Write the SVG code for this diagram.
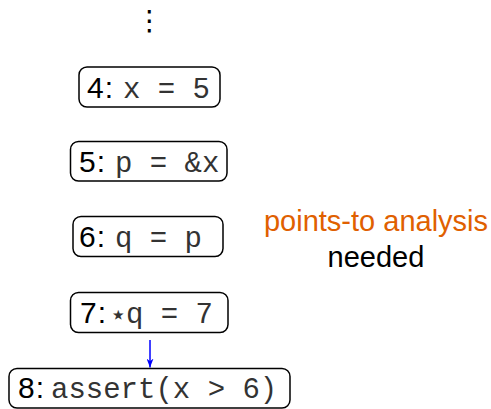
<svg xmlns="http://www.w3.org/2000/svg" width="491" height="409" viewBox="0 0 491 409">
<style>
.box{fill:#fff;stroke:#000;stroke-width:1.5}
.lab{font-family:"Liberation Sans",Arial,sans-serif;font-size:30px;fill:#000;letter-spacing:1px}
.code{font-family:"Liberation Mono","Courier New",monospace;font-size:29px;fill:#333}
.star{font-family:"DejaVu Sans",sans-serif;font-size:28px;fill:#333}
.note{font-family:"Liberation Sans",Arial,sans-serif;font-size:29px;text-anchor:middle}
.edge{stroke:#0000ff;stroke-width:1.5;fill:none}
</style>
<defs>
<marker id="ah" viewBox="0 0 10 10" refX="10" refY="5" markerWidth="9" markerHeight="7" markerUnits="userSpaceOnUse" orient="auto" preserveAspectRatio="none">
<path d="M0,0 L10,5 L0,10 L3,5 z" fill="#0000ff"/>
</marker>
</defs>
<text x="149.5" y="30" font-family="DejaVu Sans,sans-serif" font-size="28" text-anchor="middle">⋮</text>
<g id="n4">
<rect class="box" x="79" y="67" width="141" height="40" rx="8"/>
<text y="98"><tspan class="lab" x="87">4:</tspan><tspan class="code" x="123">x = 5</tspan></text>
</g>
<g id="n5">
<rect class="box" x="70.5" y="141.5" width="156.5" height="39.5" rx="8"/>
<text y="172"><tspan class="lab" x="79">5:</tspan><tspan class="code" x="115">p = &amp;x</tspan></text>
</g>
<g id="n6">
<rect class="box" x="73" y="216.5" width="150" height="40" rx="8"/>
<text y="247"><tspan class="lab" x="79">6:</tspan><tspan class="code" x="115">q = p</tspan></text>
</g>
<g id="n7">
<rect class="box" x="70.5" y="292.5" width="157.5" height="40" rx="8"/>
<text y="323"><tspan class="lab" x="80">7:</tspan><tspan class="star" x="109.5" dy="1">⋆</tspan><tspan class="code" x="126" dy="-1">q = 7</tspan></text>
</g>
<g id="n8">
<rect class="box" x="9" y="368.5" width="281" height="39.5" rx="8"/>
<text y="398"><tspan class="lab" x="18">8:</tspan><tspan class="code" x="51">assert(x &gt; 6)</tspan></text>
</g>
<g id="connectors">
<line class="edge" x1="150" y1="340" x2="150" y2="367.5" marker-end="url(#ah)"/>
</g>
<g id="note">
<text class="note" x="376" y="231" fill="#e06000">points-to analysis</text>
<text class="note" x="376" y="267" fill="#000">needed</text>
</g>
</svg>
